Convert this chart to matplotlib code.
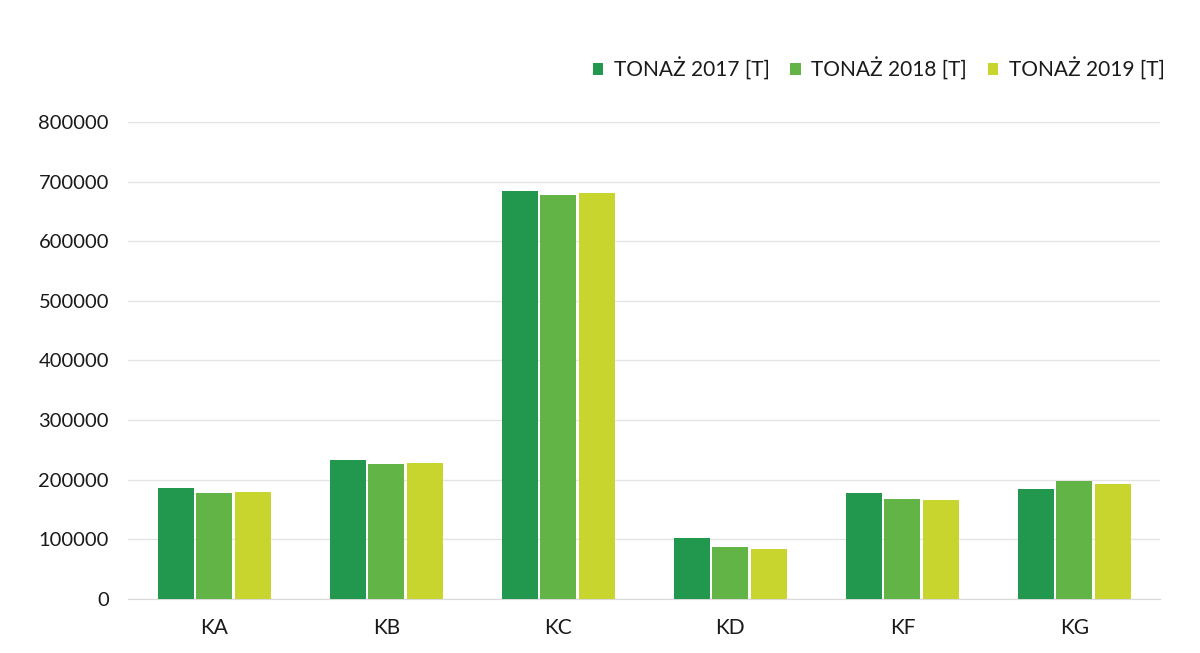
import numpy as np
import matplotlib.pyplot as plt

# Dane
kategorie = ['KA', 'KB', 'KC', 'KD', 'KF', 'KG']
serie = ['TONAŻ 2017 [T]', 'TONAŻ 2018 [T]', 'TONAŻ 2019 [T]']
tonaz_2017 = [186000, 233000, 685000, 102000, 178000, 184000]
tonaz_2018 = [178000, 226000, 678000, 87000, 168000, 198000]
tonaz_2019 = [179000, 228000, 681000, 84000, 166000, 192000]
y_ticks = [0, 100000, 200000, 300000, 400000, 500000, 600000, 700000, 800000]

kolory = ['#22984f', '#62b446', '#c9d52f']

plt.rcParams['font.family'] = ['Lato', 'DejaVu Sans']

fig = plt.figure(figsize=(12, 6.53), dpi=100)
ax = fig.add_axes([0.107, 0.083, 0.860, 0.730])

x = np.arange(len(kategorie))
szer = 0.21
odstep = 0.225
for i, (wart, nazwa) in enumerate(zip([tonaz_2017, tonaz_2018, tonaz_2019], serie)):
    ax.bar(x + (i - 1) * odstep, wart, width=szer, color=kolory[i], label=nazwa, zorder=3)

ax.set_ylim(0, 800000)
ax.set_xlim(-0.5, len(kategorie) - 0.5)
ax.set_yticks(y_ticks)
ax.set_yticklabels([str(v) for v in y_ticks], fontsize=14.5, color='#1a1a1a')
ax.set_xticks(x)
ax.set_xticklabels(kategorie, fontsize=15, color='#1a1a1a')
ax.tick_params(length=0, pad=14, axis='y')
ax.tick_params(length=0, pad=14, axis='x')

ax.grid(axis='y', color='#e4e4e4', linewidth=1, zorder=0)
for s in ['top', 'right', 'left']:
    ax.spines[s].set_visible(False)
ax.spines['bottom'].set_color('#d9d9d9')

ax.legend(loc='lower right', bbox_to_anchor=(1.012, 1.07), ncol=3, frameon=False,
          fontsize=15, handlelength=0.5, handleheight=0.5, handletextpad=0.5,
          columnspacing=1.0, labelcolor='#1a1a1a', borderaxespad=0)

fig.savefig('out.png', dpi=100, facecolor='white')
